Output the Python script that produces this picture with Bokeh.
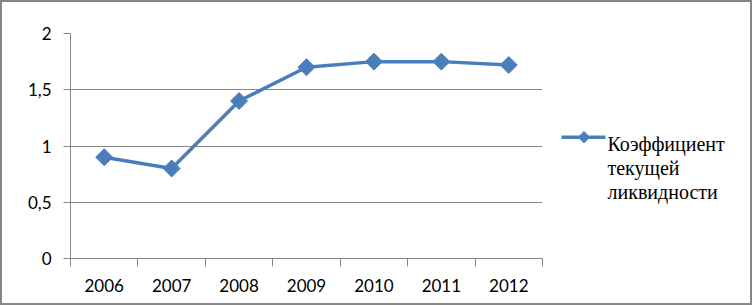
from bokeh.plotting import figure
from bokeh.models import Range1d, FixedTicker, Label
from bokeh.layouts import row
from bokeh.embed import file_html
from bokeh.resources import INLINE
import math

years = ["2006", "2007", "2008", "2009", "2010", "2011", "2012"]
values = [0.90, 0.80, 1.40, 1.70, 1.75, 1.75, 1.72]
y_ticks = [0, 0.5, 1, 1.5, 2]
y_tick_labels = ["0", "0,5", "1", "1,5", "2"]
series_name = ["Коэффициент", "текущей", "ликвидности"]

BLUE = "#4A7EBB"
GRAY = "#868686"

xs = [i + 0.5 for i in range(len(years))]

p = figure(width=556, height=301, output_backend="svg", toolbar_location=None,
           x_range=Range1d(0, len(years)), y_range=Range1d(0, 2),
           min_border_left=68, min_border_right=16, min_border_top=31, min_border_bottom=45)
p.outline_line_color = None
p.background_fill_color = "white"
p.border_fill_color = "white"

p.line(xs, values, line_color=BLUE, line_width=3.5)
p.scatter(xs, values, marker="square", angle=math.pi / 4, size=12,
          fill_color=BLUE, line_color=BLUE)

xa = p.xaxis[0]
xa.ticker = FixedTicker(ticks=xs, minor_ticks=list(range(len(years) + 1)))
xa.major_label_overrides = {x: y for x, y in zip(xs, years)}
xa.major_tick_out = 0
xa.major_tick_in = 0
xa.minor_tick_out = 8
xa.minor_tick_in = 0
xa.minor_tick_line_color = GRAY
xa.axis_line_color = GRAY
xa.major_label_standoff = 12
xa.major_label_text_font = "Lato"
xa.major_label_text_font_size = "17px"
xa.major_label_text_color = "black"

ya = p.yaxis[0]
ya.ticker = FixedTicker(ticks=y_ticks)
ya.major_label_overrides = {t: l for t, l in zip(y_ticks, y_tick_labels)}
ya.major_tick_out = 7
ya.major_tick_in = 0
ya.minor_tick_line_color = None
ya.major_tick_line_color = GRAY
ya.axis_line_color = GRAY
ya.major_label_standoff = 12
ya.major_label_text_font = "Lato"
ya.major_label_text_font_size = "17px"
ya.major_label_text_color = "black"

p.xgrid.grid_line_color = None
p.ygrid.grid_line_color = GRAY
p.ygrid.ticker = FixedTicker(ticks=y_ticks)

# legend panel: its frame is aligned with the main plot, units = canvas pixels
lg = figure(width=192, height=301, output_backend="svg", toolbar_location=None,
            x_range=Range1d(0, 192), y_range=Range1d(256, 31),
            min_border_left=0, min_border_right=0,
            min_border_top=31, min_border_bottom=45)
lg.axis.visible = False
lg.grid.visible = False
lg.outline_line_color = None
lg.background_fill_color = "white"
lg.border_fill_color = "white"
lg.line([3, 47], [134.7, 134.7], line_color=BLUE, line_width=3.5)
lg.scatter([25.5], [134.7], marker="square", angle=math.pi / 4, size=8,
           fill_color=BLUE, line_color=BLUE)
for name, yy in zip(series_name, [141.3, 165.8, 189.7]):
    lg.add_layout(Label(x=49, y=yy, text=name, text_font="Liberation Serif",
                        text_font_size="20px", text_color="black",
                        text_baseline="alphabetic", text_align="left"))

layout = row(p, lg, spacing=0)
layout.styles = {"border": "2px solid #868686"}

open("out.html", "w").write(file_html(layout, INLINE))
